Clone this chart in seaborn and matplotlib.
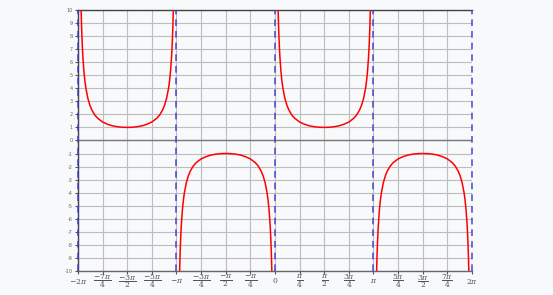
import numpy as np
import pandas as pd
import matplotlib
matplotlib.use('Agg')
import matplotlib.pyplot as plt
import seaborn as sns

# one branch of the curve, x in units of pi (0..1), y
branch_x = [0.032, 0.036, 0.04, 0.045, 0.05, 0.06, 0.07, 0.08, 0.10, 0.12, 0.14,
            0.17, 0.20, 0.25, 0.30, 0.35, 0.40, 0.45, 0.50,
            0.55, 0.60, 0.65, 0.70, 0.75, 0.80, 0.83, 0.86, 0.88, 0.90,
            0.92, 0.93, 0.94, 0.95, 0.955, 0.96, 0.964, 0.968]
branch_y = [10.0, 8.86, 7.98, 7.10, 6.39, 5.34, 4.58, 4.02, 3.24, 2.72, 2.35,
            1.96, 1.70, 1.414, 1.24, 1.12, 1.05, 1.01, 1.0,
            1.01, 1.05, 1.12, 1.24, 1.414, 1.70, 1.96, 2.35, 2.72, 3.24,
            4.02, 4.58, 5.34, 6.39, 7.10, 7.98, 8.86, 10.0]
branch_start = [-2, -1, 0, 1]   # in units of pi
branch_sign = [1, -1, 1, -1]
asymptotes = [-2, -1, 0, 1, 2]  # in units of pi

xtick_labels = [r'$-2\pi$', r'$\dfrac{-7\pi}{4}$', r'$\dfrac{-3\pi}{2}$', r'$\dfrac{-5\pi}{4}$',
                r'$-\pi$', r'$\dfrac{-3\pi}{4}$', r'$\dfrac{-\pi}{2}$', r'$\dfrac{-\pi}{4}$',
                '0', r'$\dfrac{\pi}{4}$', r'$\dfrac{\pi}{2}$', r'$\dfrac{3\pi}{4}$',
                r'$\pi$', r'$\dfrac{5\pi}{4}$', r'$\dfrac{3\pi}{2}$', r'$\dfrac{7\pi}{4}$', r'$2\pi$']
yticks = list(range(-10, 11))

rows = []
for k, (s, sg) in enumerate(zip(branch_start, branch_sign)):
    for bx, by in zip(branch_x, branch_y):
        rows.append({'x': (s + bx) * np.pi, 'y': sg * by, 'branch': k})
df = pd.DataFrame(rows)

sns.set_style('whitegrid')
plt.rcParams['mathtext.fontset'] = 'dejavuserif'
bg = '#f8f9fb'
fig = plt.figure(figsize=(5.53, 2.95), dpi=100, facecolor=bg)
ax = fig.add_axes([0.141, 0.0814, 0.7125, 0.885])
ax.set_facecolor(bg)

sns.lineplot(data=df, x='x', y='y', units='branch', estimator=None, sort=False,
             color='red', linewidth=1.1, ax=ax, zorder=4)
for a in asymptotes:
    ax.axvline(a * np.pi, color='#3a3ad0', linestyle=(0, (4, 3)), linewidth=1.2,
               alpha=0.85, zorder=5, clip_on=False)
ax.axhline(0, color='#777777', linewidth=1.0, zorder=2)

ax.set_xlim(-2 * np.pi, 2 * np.pi)
ax.set_ylim(-10, 10)
ax.set_xticks(np.arange(-8, 9) * np.pi / 4)
ax.set_xticklabels(xtick_labels, fontsize=5.5, color='#555555', family='serif',
                   verticalalignment='center')
ax.set_yticks(yticks)
ax.set_yticklabels([str(v) for v in yticks], fontsize=3.5, color='#666666')
ax.grid(True, color='#bdbdbd', linewidth=0.8)
ax.set_xlabel('')
ax.set_ylabel('')
ax.tick_params(axis='both', length=2, width=0.8, color='#555555', direction='out')
ax.tick_params(axis='x', pad=5.5, bottom=True)
ax.tick_params(axis='y', pad=2, left=True)
for side in ['top', 'bottom', 'left']:
    ax.spines[side].set_visible(True)
    ax.spines[side].set_color('#444444')
    ax.spines[side].set_linewidth(1.0)
ax.spines['bottom'].set_color('#666666')
ax.spines['right'].set_visible(False)

plt.savefig('out.png', dpi=100, facecolor=bg)
